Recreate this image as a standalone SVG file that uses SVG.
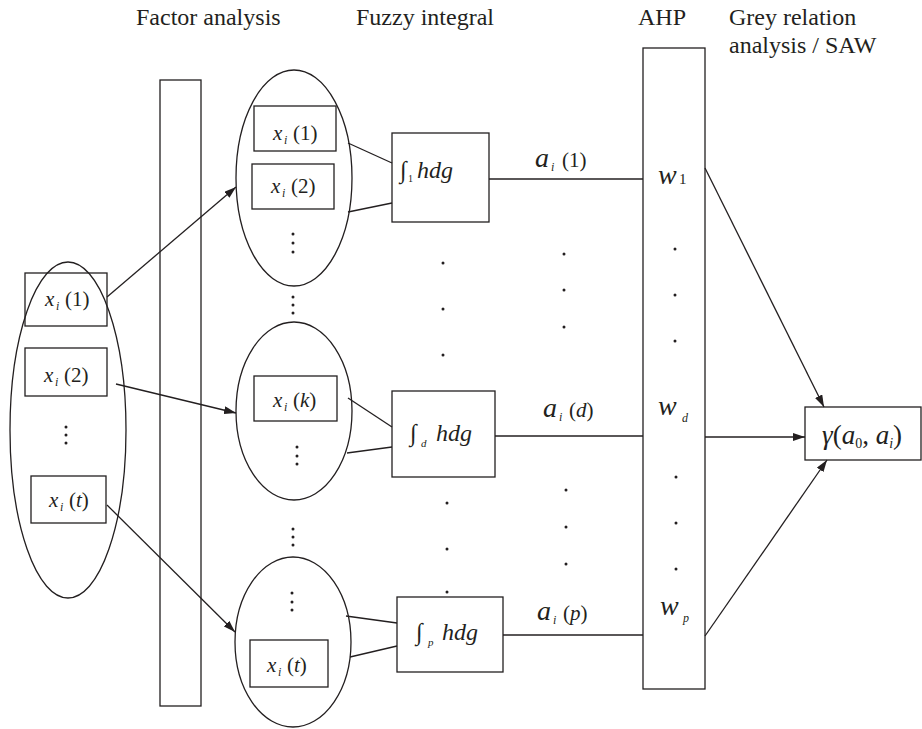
<svg xmlns="http://www.w3.org/2000/svg" width="922" height="729" viewBox="0 0 922 729" font-family="'Liberation Serif', 'Times New Roman', 'DejaVu Serif', serif">
<defs>
<style>
text{font-family:'Liberation Serif','Times New Roman','DejaVu Serif',serif;fill:#231f20}
.s{fill:none;stroke:#231f20;stroke-width:1.3}
.l{stroke:#231f20;stroke-width:1.3;fill:none}
.h{font-size:24px}
.m{font-size:21px}
.i{font-style:italic}
.sb{font-size:12px;font-style:italic}
.d{fill:#231f20}
</style>
<marker id="ah" viewBox="0 0 12 8" refX="12" refY="4" markerWidth="12" markerHeight="8" markerUnits="userSpaceOnUse" orient="auto">
<path d="M0,0 L12,4 L0,8 Z" fill="#231f20"/>
</marker>
</defs>
<rect width="922" height="729" fill="#fff"/>

<g id="labels" class="h">
<text x="136" y="25">Factor analysis</text>
<text x="356" y="25">Fuzzy integral</text>
<text x="638" y="25">AHP</text>
<text x="729" y="25">Grey relation</text>
<text x="729" y="53">analysis / SAW</text>
</g>

<g id="input-set">
<ellipse class="s" cx="68" cy="430" rx="58" ry="168"/>
<rect class="s" x="25" y="273" width="82" height="53"/>
<text class="m" y="306"><tspan x="45" class="i">x</tspan><tspan x="56" dy="4" class="sb">i</tspan><tspan x="65" dy="-4">(1)</tspan></text>
<rect class="s" x="25" y="348" width="82" height="48"/>
<text class="m" y="382"><tspan x="44" class="i">x</tspan><tspan x="55" dy="4" class="sb">i</tspan><tspan x="64" dy="-4">(2)</tspan></text>
<circle class="d" cx="66" cy="427" r="1.5"/><circle class="d" cx="66" cy="435" r="1.5"/><circle class="d" cx="66" cy="443" r="1.5"/>
<rect class="s" x="31" y="476" width="75" height="47"/>
<text class="m" y="507"><tspan x="49" class="i">x</tspan><tspan x="60" dy="4" class="sb">i</tspan><tspan x="69" dy="-4">(</tspan><tspan class="i">t</tspan><tspan>)</tspan></text>
</g>

<g id="factor-analysis">
<rect class="s" x="160" y="80" width="41" height="626"/>
</g>

<g id="factor-1">
<ellipse class="s" cx="294" cy="178" rx="58" ry="108"/>
<rect class="s" x="254" y="106" width="82" height="45"/>
<text class="m" y="140"><tspan x="273" class="i">x</tspan><tspan x="284" dy="4" class="sb">i</tspan><tspan x="293" dy="-4">(1)</tspan></text>
<rect class="s" x="252" y="164" width="82" height="45"/>
<text class="m" y="193"><tspan x="271" class="i">x</tspan><tspan x="282" dy="4" class="sb">i</tspan><tspan x="291" dy="-4">(2)</tspan></text>
<circle class="d" cx="293" cy="234" r="1.5"/><circle class="d" cx="293" cy="243" r="1.5"/><circle class="d" cx="293" cy="252" r="1.5"/>
</g>

<g id="gap-dots-1">
<circle class="d" cx="293" cy="297" r="1.5"/><circle class="d" cx="293" cy="305" r="1.5"/><circle class="d" cx="293" cy="313" r="1.5"/>
</g>

<g id="factor-d">
<ellipse class="s" cx="294" cy="411" rx="58" ry="89"/>
<rect class="s" x="254" y="376" width="83" height="45"/>
<text class="m" y="407"><tspan x="273" class="i">x</tspan><tspan x="284" dy="4" class="sb">i</tspan><tspan x="293" dy="-4">(</tspan><tspan class="i">k</tspan><tspan>)</tspan></text>
<circle class="d" cx="297" cy="447" r="1.5"/><circle class="d" cx="297" cy="456" r="1.5"/><circle class="d" cx="297" cy="464" r="1.5"/>
</g>

<g id="gap-dots-2">
<circle class="d" cx="293" cy="529" r="1.5"/><circle class="d" cx="293" cy="537" r="1.5"/><circle class="d" cx="293" cy="545" r="1.5"/>
</g>

<g id="factor-p">
<ellipse class="s" cx="293" cy="642" rx="58" ry="85"/>
<circle class="d" cx="292" cy="593" r="1.5"/><circle class="d" cx="292" cy="602" r="1.5"/><circle class="d" cx="292" cy="610" r="1.5"/>
<rect class="s" x="250" y="640" width="78" height="47"/>
<text class="m" y="672"><tspan x="267" class="i">x</tspan><tspan x="278" dy="4" class="sb">i</tspan><tspan x="287" dy="-4">(</tspan><tspan class="i">t</tspan><tspan>)</tspan></text>
</g>

<g id="integral-1">
<rect class="s" x="392" y="133" width="97" height="89"/>
<text y="178"><tspan x="400" font-size="24">∫</tspan><tspan x="408" dy="4" font-size="10">1</tspan><tspan x="417" dy="-4" font-size="24" class="i">hdg</tspan></text>
</g>

<g id="integral-d">
<rect class="s" x="392" y="391" width="103" height="86"/>
<text y="441"><tspan x="410" font-size="24">∫</tspan><tspan x="421" dy="6" font-size="11" class="i">d</tspan><tspan x="436" dy="-6" font-size="24" class="i">hdg</tspan></text>
</g>

<g id="integral-p">
<rect class="s" x="397" y="597" width="106" height="75"/>
<text y="640"><tspan x="416" font-size="24">∫</tspan><tspan x="428" dy="6" font-size="11" class="i">p</tspan><tspan x="442" dy="-6" font-size="24" class="i">hdg</tspan></text>
</g>

<g id="column-dots">
<circle class="d" cx="443" cy="263" r="1.5"/><circle class="d" cx="443" cy="309" r="1.5"/><circle class="d" cx="443" cy="355" r="1.5"/>
<circle class="d" cx="447" cy="503" r="1.5"/><circle class="d" cx="447" cy="549" r="1.5"/><circle class="d" cx="447" cy="592" r="1.5"/>
<circle class="d" cx="564" cy="254" r="1.5"/><circle class="d" cx="564" cy="290" r="1.5"/><circle class="d" cx="564" cy="327" r="1.5"/>
<circle class="d" cx="566" cy="490" r="1.5"/><circle class="d" cx="566" cy="527" r="1.5"/><circle class="d" cx="566" cy="564" r="1.5"/>
</g>

<g id="ahp">
<rect class="s" x="643" y="48" width="62" height="641"/>
<text y="184"><tspan x="658" font-size="28" class="i">w</tspan><tspan x="679" font-size="15">1</tspan></text>
<text y="415"><tspan x="658" font-size="28" class="i">w</tspan><tspan x="682" dy="7" font-size="12" class="i">d</tspan></text>
<text y="615"><tspan x="660" font-size="28" class="i">w</tspan><tspan x="683" dy="7" font-size="12" class="i">p</tspan></text>
<circle class="d" cx="675" cy="249" r="1.5"/><circle class="d" cx="675" cy="295" r="1.5"/><circle class="d" cx="675" cy="341" r="1.5"/>
<circle class="d" cx="676" cy="477" r="1.5"/><circle class="d" cx="676" cy="523" r="1.5"/><circle class="d" cx="676" cy="569" r="1.5"/>
</g>

<g id="grey-relation">
<rect class="s" x="805" y="407" width="116" height="53"/>
<text y="444" font-size="27"><tspan x="822" class="i">γ</tspan><tspan>(</tspan><tspan class="i">a</tspan><tspan font-size="14" dy="4">0</tspan><tspan dy="-4">, </tspan><tspan class="i">a</tspan><tspan font-size="14" dy="4" class="i">i</tspan><tspan dy="-4">)</tspan></text>
</g>

<g id="connectors">
<line class="l" x1="107" y1="297" x2="236" y2="187" marker-end="url(#ah)"/>
<line class="l" x1="116" y1="384" x2="236" y2="413" marker-end="url(#ah)"/>
<line class="l" x1="107" y1="505" x2="235" y2="632" marker-end="url(#ah)"/>
<line class="l" x1="348" y1="143" x2="392" y2="163"/>
<line class="l" x1="348" y1="212" x2="392" y2="203"/>
<line class="l" x1="348" y1="398" x2="392" y2="427"/>
<line class="l" x1="347" y1="453" x2="392" y2="447"/>
<line class="l" x1="346" y1="616" x2="397" y2="623"/>
<line class="l" x1="350" y1="657" x2="397" y2="646"/>
<line class="l" x1="489" y1="179" x2="643" y2="179"/>
<line class="l" x1="495" y1="436" x2="643" y2="436"/>
<line class="l" x1="503" y1="635" x2="643" y2="635"/>
<line class="l" x1="705" y1="168" x2="824" y2="407" marker-end="url(#ah)"/>
<line class="l" x1="705" y1="437" x2="805" y2="437" marker-end="url(#ah)"/>
<line class="l" x1="705" y1="636" x2="827" y2="460" marker-end="url(#ah)"/>
</g>

<g id="edge-labels">
<text y="167"><tspan x="535" font-size="28" class="i">a</tspan><tspan x="551" dy="4" font-size="12" class="i">i</tspan><tspan x="562" dy="-4" font-size="21">(1)</tspan></text>
<text y="417"><tspan x="543" font-size="28" class="i">a</tspan><tspan x="559" dy="4" font-size="12" class="i">i</tspan><tspan x="569" dy="-4" font-size="21">(</tspan><tspan font-size="21" class="i">d</tspan><tspan font-size="21">)</tspan></text>
<text y="620"><tspan x="537" font-size="28" class="i">a</tspan><tspan x="553" dy="4" font-size="12" class="i">i</tspan><tspan x="563" dy="-4" font-size="21">(</tspan><tspan font-size="21" class="i">p</tspan><tspan font-size="21">)</tspan></text>
</g>
</svg>
